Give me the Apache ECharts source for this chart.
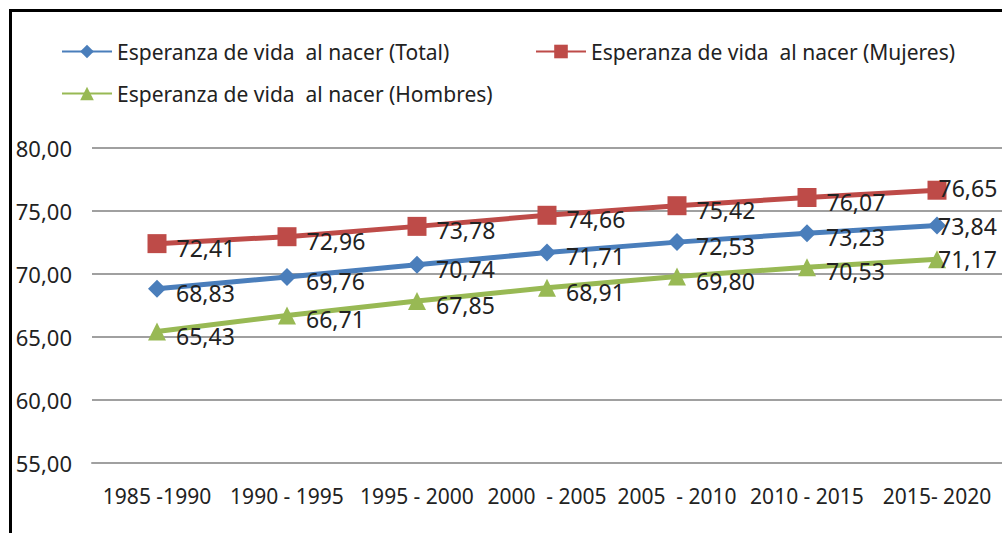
<!DOCTYPE html>
<html>
<head>
<meta charset="utf-8">
<script src="https://cdn.jsdelivr.net/npm/echarts@6/dist/echarts.min.js"></script>
<style>
  html, body { margin: 0; padding: 0; background: #fff; }
  #frame { position: absolute; left: 9px; top: 9px; width: 1100px; height: 600px; border: 3px solid #000; }
  #chart { position: absolute; left: 0; top: 0; width: 1002px; height: 533px; }
</style>
</head>
<body>
<div id="frame"></div>
<div id="chart"></div>
<script>
// Esperanza de vida al nacer — line chart
var periods = ['1985 -1990', '1990 - 1995', '1995 - 2000', '2000  - 2005', '2005  - 2010', '2010 - 2015', '2015- 2020'];
var total   = [68.83, 69.76, 70.74, 71.71, 72.53, 73.23, 73.84];
var mujeres = [72.41, 72.96, 73.78, 74.66, 75.42, 76.07, 76.65];
var hombres = [65.43, 66.71, 67.85, 68.91, 69.80, 70.53, 71.17];
var yTicks  = [55, 60, 65, 70, 75, 80];

(function () {
  var ink = '#222';
  var rule = '#a0a0a0';
  var font = 'Noto Sans';
  var blue = '#4a7ebb', red = '#be4b48', green = '#98b954';

  function fmt(v) { return Number(v).toFixed(2).replace('.', ','); }

  // last point's label sits on top of the marker, like the original
  function points(data, lastDy) {
    return data.map(function (v, i) {
      if (i !== data.length - 1) return v;
      return { value: v, label: { distance: -8, offset: [0, lastDy] } };
    });
  }

  function line(name, data, color, symbol, size, lastDy) {
    return {
      name: name,
      type: 'line',
      data: points(data, lastDy),
      symbol: symbol,
      symbolSize: size,
      lineStyle: { color: color, width: 5 },
      itemStyle: { color: color },
      label: {
        show: true, position: 'right', distance: 10, offset: [0, 4],
        color: ink, fontSize: 23, fontFamily: font,
        formatter: function (p) { return fmt(p.value); }
      }
    };
  }

  var nT = 'Esperanza de vida  al nacer (Total)';
  var nM = 'Esperanza de vida  al nacer (Mujeres)';
  var nH = 'Esperanza de vida  al nacer (Hombres)';
  var legendText = { color: ink, fontSize: 21, fontFamily: font };
  var icon = { itemWidth: 50, itemHeight: 17, textStyle: legendText };

  var c = echarts.init(document.getElementById('chart'), null, { renderer: 'svg' });
  c.setOption({
    animation: false,
    legend: [
      Object.assign({ data: [nT], left: 56, top: 36 }, icon),
      Object.assign({ data: [nM], left: 530, top: 36 }, icon),
      Object.assign({ data: [nH], left: 56, top: 78 }, icon)
    ],
    grid: { left: 92, top: 148, width: 917, bottom: 70 },
    xAxis: {
      type: 'category',
      data: periods,
      axisLine: { lineStyle: { color: rule, width: 2 } },
      axisTick: { show: false },
      axisLabel: { color: ink, fontSize: 21, fontFamily: font, margin: 22, interval: 0 }
    },
    yAxis: {
      type: 'value',
      min: yTicks[0], max: yTicks[yTicks.length - 1], interval: 5,
      axisLine: { show: false },
      axisTick: { show: false },
      splitLine: { lineStyle: { color: rule, width: 2 } },
      axisLabel: { color: ink, fontSize: 22, fontFamily: font, margin: 20, formatter: fmt }
    },
    series: [
      line(nT, total, blue, 'diamond', 18, 0),
      line(nM, mujeres, red, 'rect', 19, -2),
      line(nH, hombres, green, 'triangle', 18, 0)
    ]
  });
})();
</script>
</body>
</html>
